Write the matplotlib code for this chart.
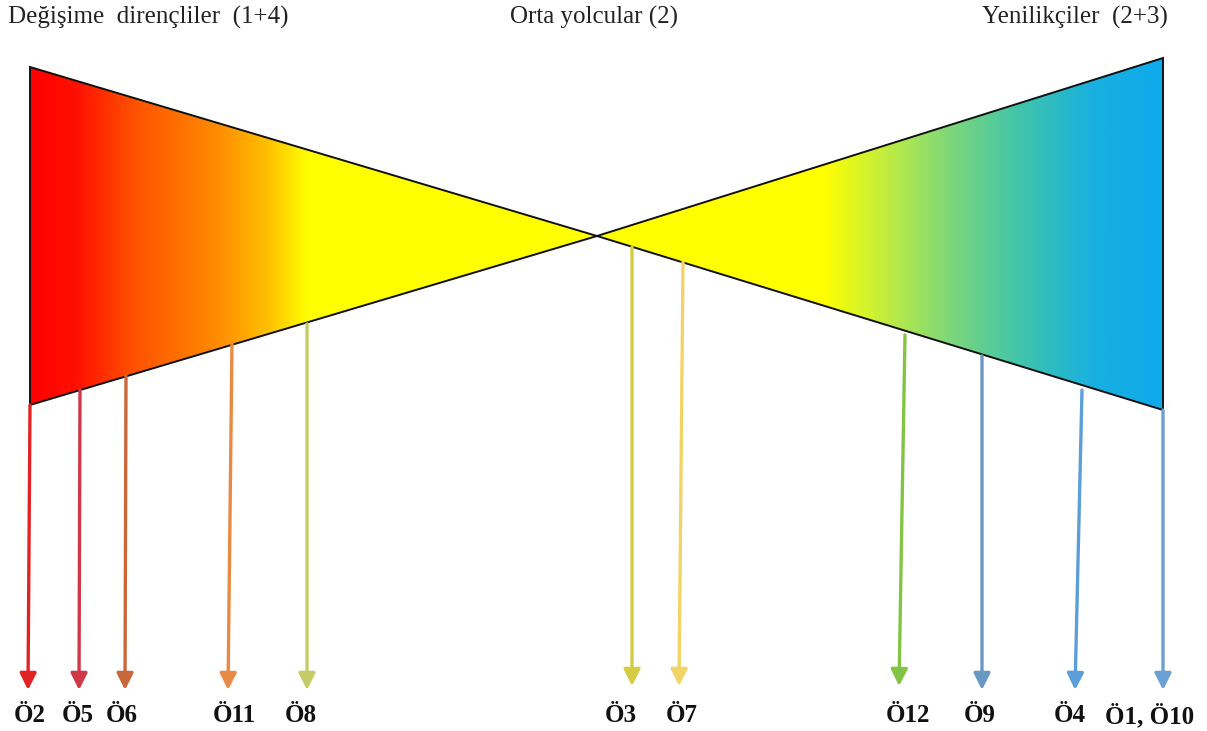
import numpy as np
import matplotlib
matplotlib.use("Agg")
import matplotlib.pyplot as plt
from matplotlib.colors import LinearSegmentedColormap
from matplotlib.patches import Polygon

# headings
titles = ["Değişime  dirençliler  (1+4)", "Orta yolcular (2)", "Yenilikçiler  (2+3)"]
title_x = [8, 594, 1168]
title_ha = ["left", "center", "right"]

# two triangles (pixel layout), meeting in the middle
left_tri = [(30, 67), (30, 405), (597, 236)]
right_tri = [(1163, 58), (1163, 410), (597, 236)]

# colour stops of the gradients (position along x, colour)
left_stops = [(0.0, "#ff0000"), (0.08, "#ff1000"), (0.18, "#ff5000"),
              (0.33, "#ff8c00"), (0.42, "#ffc000"), (0.49, "#ffff00"), (1.0, "#ffff00")]
right_stops = [(0.0, "#ffff00"), (0.40, "#ffff00"), (0.50, "#c6ef3a"),
               (0.62, "#7fd878"), (0.75, "#40c4ac"), (0.88, "#18b0e0"), (1.0, "#0eaaec")]

# arrows: labels, start point on triangle edge, end point, colour
labels = ["Ö2", "Ö5", "Ö6", "Ö11", "Ö8", "Ö3", "Ö7", "Ö12", "Ö9", "Ö4", "Ö1, Ö10"]
start_x = [30, 80, 126, 232, 307, 632, 683, 905, 982, 1082, 1163]
start_y = [405, 390, 376, 343, 324, 247, 262, 335, 356, 390, 410]
end_x = [28, 79, 125, 228, 307, 632, 679, 899, 982, 1075, 1163]
end_y = [690, 690, 690, 690, 690, 686, 686, 686, 690, 690, 690]
label_x = [30, 78, 122, 234, 301, 621, 682, 908, 980, 1070, 1150]
colors = ["#e02424", "#d03848", "#c8683a", "#e88a44", "#c4cc66", "#d6cc44",
          "#f0d466", "#84c444", "#6a98c4", "#5c9ed8", "#6aa0d4"]

W, H = 1207, 731
fig = plt.figure(figsize=(W / 100, H / 100), dpi=100)
ax = fig.add_axes([0, 0, 1, 1])
ax.set_xlim(0, W)
ax.set_ylim(H, 0)
ax.axis("off")

serif = ["Liberation Serif", "DejaVu Serif"]


def grad_triangle(pts, stops, x0, x1):
    cmap = LinearSegmentedColormap.from_list("g", stops)
    ys = [p[1] for p in pts]
    grad = np.linspace(0, 1, 256).reshape(1, -1)
    im = ax.imshow(grad, cmap=cmap, aspect="auto",
                   extent=(x0, x1, max(ys), min(ys)), zorder=1)
    poly = Polygon(pts, closed=True, facecolor="none", edgecolor="#111111",
                   lw=1.4, zorder=2)
    ax.add_patch(poly)
    im.set_clip_path(poly)


grad_triangle(left_tri, left_stops, 30, 597)
grad_triangle(right_tri, right_stops, 597, 1163)

for sx, sy, ex, ey, c in zip(start_x, start_y, end_x, end_y, colors):
    ax.annotate("", xy=(ex, ey), xytext=(sx, sy),
                arrowprops=dict(arrowstyle="-|>,head_length=1.0,head_width=0.5",
                                color=c, lw=2.4, shrinkA=0, shrinkB=0),
                zorder=3)

for lx, lab in zip(label_x, labels):
    ax.text(lx, 716, lab, ha="center", va="center", fontsize=18,
            fontweight="bold", family=serif, color="#111111")

for t, x, ha in zip(titles, title_x, title_ha):
    ax.text(x, 17, t, ha=ha, va="center", fontsize=18, family=serif,
            color="#222222")

fig.savefig("out.png", dpi=100)
